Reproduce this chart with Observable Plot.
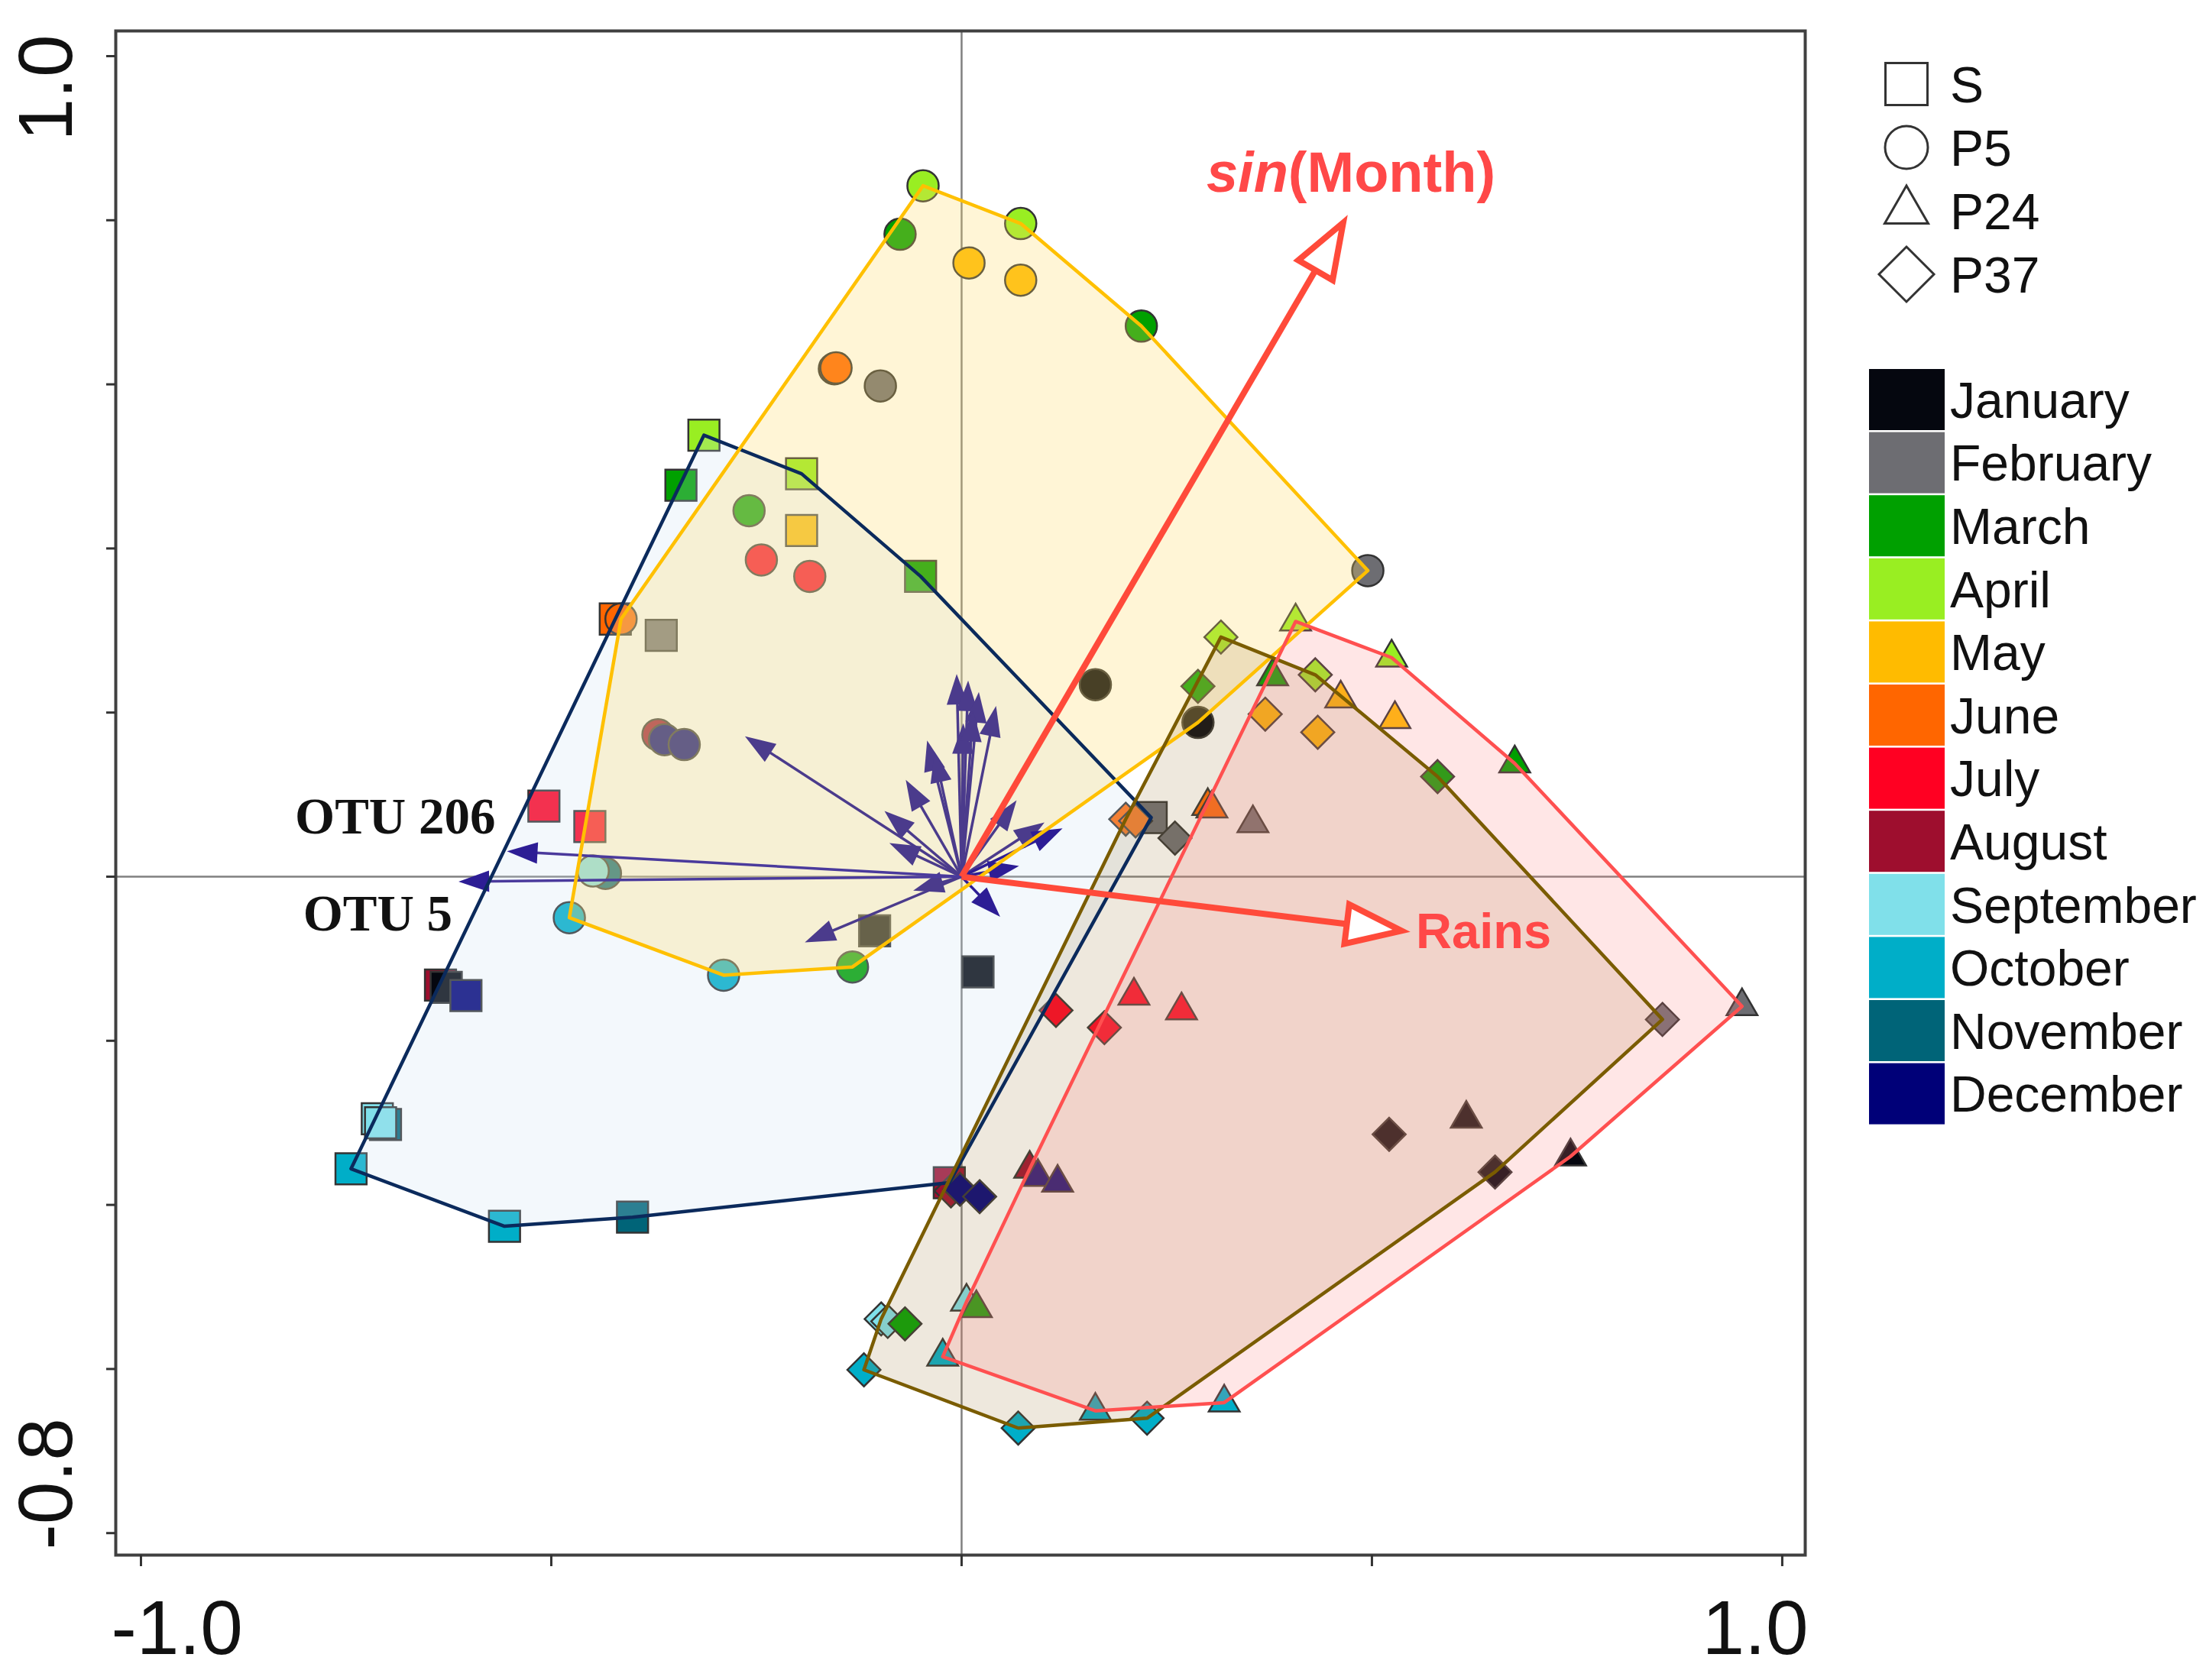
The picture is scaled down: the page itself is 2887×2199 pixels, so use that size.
<!DOCTYPE html>
<html><head><meta charset="utf-8">
<script src="https://cdn.jsdelivr.net/npm/d3@7"></script>
<script src="https://cdn.jsdelivr.net/npm/@observablehq/plot@0.6"></script>
<style>
html,body{margin:0;padding:0;background:#fff;}
#wrap{position:relative;width:2887px;height:2199px;overflow:hidden;}
</style></head><body><div id="wrap"></div>
<script>
// ---- categories ----
const months = ["January","February","March","April","May","June","July","August","September","October","November","December"];
const monthColors = ["#05070f","#6d6d72","#00a000","#99ee22","#ffbb00","#ff6600","#ff0022","#9e0e2e","#80e0ea","#00aec8","#006478","#000078"];
const siteNames = ["S","P5","P24","P37"];

// ---- sample scores (axis 1, axis 2) ----
const sitesS = [
 {m:"April",x:-0.314,y:0.538},{m:"March",x:-0.342,y:0.477},{m:"April",x:-0.195,y:0.491},
 {m:"May",x:-0.195,y:0.422},{m:"March",x:-0.050,y:0.366},{m:"June",x:-0.422,y:0.314},
 {m:"February",x:-0.366,y:0.294},{m:"July",x:-0.509,y:0.086},{m:"July",x:-0.453,y:0.061},
 {m:"January",x:-0.106,y:-0.066},{m:"January",x:0.020,y:-0.116},{m:"February",x:0.231,y:0.072},
 {m:"August",x:-0.635,y:-0.132},{m:"January",x:-0.628,y:-0.135},{m:"December",x:-0.604,y:-0.145},
 {m:"September",x:-0.712,y:-0.295},{m:"November",x:-0.702,y:-0.302},{m:"September",x:-0.708,y:-0.300},
 {m:"October",x:-0.744,y:-0.356},{m:"October",x:-0.557,y:-0.426},{m:"November",x:-0.401,y:-0.415},
 {m:"August",x:-0.015,y:-0.373}
];
const sitesP5 = [
 {m:"April",x:-0.047,y:0.842},{m:"March",x:-0.075,y:0.783},{m:"April",x:0.072,y:0.796},
 {m:"May",x:0.009,y:0.748},{m:"May",x:0.072,y:0.727},{m:"March",x:0.219,y:0.671},
 {m:"June",x:-0.155,y:0.619},{m:"June",x:-0.153,y:0.620},{m:"February",x:-0.099,y:0.598},
 {m:"March",x:-0.259,y:0.446},{m:"July",x:-0.244,y:0.386},{m:"July",x:-0.185,y:0.366},
 {m:"February",x:0.495,y:0.373},{m:"January",x:0.163,y:0.234},{m:"January",x:0.288,y:0.188},
 {m:"June",x:-0.415,y:0.314},{m:"August",x:-0.370,y:0.173},{m:"December",x:-0.362,y:0.167},
 {m:"December",x:-0.338,y:0.161},{m:"November",x:-0.434,y:0.004},{m:"September",x:-0.449,y:0.007},
 {m:"October",x:-0.478,y:-0.050},{m:"October",x:-0.290,y:-0.120},{m:"March",x:-0.133,y:-0.110}
];
const sitesP24 = [
 {m:"April",x:0.407,y:0.311},{m:"March",x:0.379,y:0.244},{m:"April",x:0.524,y:0.267},
 {m:"May",x:0.462,y:0.217},{m:"May",x:0.528,y:0.192},{m:"March",x:0.674,y:0.138},
 {m:"June",x:0.300,y:0.086},{m:"June",x:0.305,y:0.083},{m:"February",x:0.355,y:0.065},
 {m:"July",x:0.210,y:-0.145},{m:"July",x:0.268,y:-0.163},{m:"February",x:0.951,y:-0.158},
 {m:"January",x:0.615,y:-0.295},{m:"January",x:0.742,y:-0.341},{m:"August",x:0.083,y:-0.356},
 {m:"December",x:0.093,y:-0.366},{m:"December",x:0.117,y:-0.373},{m:"September",x:0.006,y:-0.518},
 {m:"March",x:0.018,y:-0.526},{m:"October",x:-0.023,y:-0.585},{m:"October",x:0.163,y:-0.651},
 {m:"October",x:0.320,y:-0.641}
];
const sitesP37 = [
 {m:"April",x:0.316,y:0.292},{m:"March",x:0.288,y:0.232},{m:"April",x:0.431,y:0.246},
 {m:"May",x:0.370,y:0.198},{m:"May",x:0.434,y:0.176},{m:"March",x:0.580,y:0.122},
 {m:"June",x:0.200,y:0.070},{m:"June",x:0.212,y:0.068},{m:"February",x:0.260,y:0.047},
 {m:"July",x:0.115,y:-0.163},{m:"July",x:0.174,y:-0.184},{m:"February",x:0.854,y:-0.174},
 {m:"January",x:0.521,y:-0.314},{m:"January",x:0.650,y:-0.360},{m:"August",x:-0.013,y:-0.383},
 {m:"December",x:-0.002,y:-0.381},{m:"December",x:0.022,y:-0.390},{m:"September",x:-0.098,y:-0.539},
 {m:"September",x:-0.090,y:-0.542},{m:"March",x:-0.069,y:-0.545},{m:"October",x:-0.119,y:-0.601},
 {m:"October",x:0.069,y:-0.672},{m:"October",x:0.226,y:-0.660}
];

// ---- species (OTU) vectors ----
const otuArrows = [
 [-0.006,0.247],[0.008,0.239],[0.021,0.225],[0.042,0.208],[0.002,0.187],[0.014,0.202],
 [-0.042,0.166],[-0.033,0.152],[-0.068,0.118],[-0.094,0.080],[-0.088,0.041],[-0.059,-0.017],
 [-0.191,-0.080],[-0.264,0.171],[0.067,0.093],[0.101,0.066]
].map(([x,y])=>({x,y}));
const otuArrowsDark = [
 {x:0.047,y:-0.049},{x:0.123,y:0.059},{x:0.070,y:0.013},
 {x:-0.554,y:0.031,label:"OTU 206"},{x:-0.613,y:-0.006,label:"OTU 5"}
];
// ---- environmental vectors ----
const envVectors = [
 {name:"sin(Month)", italic:"sin", rest:"(Month)", x:0.465, y:0.797},
 {name:"Rains", italic:"", rest:"Rains", x:0.536, y:-0.066}
];
// ---- axis ticks / labels ----
const xTicks = [-1,-0.5,0,0.5,1];
const yTicks = [-0.8,-0.6,-0.4,-0.2,0,0.2,0.4,0.6,0.8,1.0];
const xTickLabels = ["-1.0","1.0"];
const yTickLabels = ["1.0","-0.8"];

// ---- helpers ----
const PX = 1074; // pixels per axis unit of this layout
const hull = pts => d3.polygonHull(pts.map(d=>[d.x,d.y])).map(([x,y])=>({x,y}));
const ang = d => Math.atan2(d.x, d.y) * 180 / Math.PI;
const shrink = (d, px) => { const L = Math.hypot(d.x,d.y); return Math.max(0, 1 - px/(PX*L)); };
const solidHead = {draw(ctx){ ctx.moveTo(0,0); ctx.lineTo(-14,40); ctx.lineTo(14,40); ctx.closePath(); }};
const openHead = {draw(ctx){ ctx.moveTo(0,0); ctx.lineTo(-26,72); ctx.lineTo(26,72); ctx.closePath(); }};

const hulls = [
 {pts:sitesS,  stroke:"#0b2a5c", fill:"#c8ddf0", op:0.22},
 {pts:sitesP5, stroke:"#ffc000", fill:"#ffd966", op:0.27},
 {pts:sitesP37,stroke:"#7a5c00", fill:"#a08040", op:0.18},
 {pts:sitesP24,stroke:"#ff5050", fill:"#ff8080", op:0.2}
];
const pointStyle = {x:"x", y:"y", fill:"m", stroke:"#333", strokeWidth:2.5};
const purple = "#4b3b8c", navy = "#2d1d95", red = "#ff4a3a";
const sans = "Liberation Sans, Arial, sans-serif", serif = "Liberation Serif, Times New Roman, serif";

const marks = [
 Plot.ruleX([0], {stroke:"#808080", strokeWidth:2.5}),
 Plot.ruleY([0], {stroke:"#808080", strokeWidth:2.5}),
 Plot.dot(sitesS,  {...pointStyle, symbol:"square", r:23}),
 Plot.dot(sitesP5, {...pointStyle, symbol:"circle", r:20.5}),
 Plot.dot(sitesP24,{...pointStyle, symbol:"triangle", r:15}),
 Plot.dot(sitesP37,{...pointStyle, symbol:"diamond2", r:19.5}),
 ...hulls.map(h => Plot.line(hull(h.pts), {x:"x", y:"y", curve:"linear-closed", fill:h.fill, fillOpacity:h.op, stroke:"none"})),
 Plot.link(otuArrows, {x1:()=>0, y1:()=>0, x2:d=>d.x*shrink(d,24), y2:d=>d.y*shrink(d,24), stroke:purple, strokeWidth:3.5}),
 Plot.dot(otuArrows, {x:"x", y:"y", symbol:solidHead, r:10, fill:purple, stroke:"none", rotate:ang}),
 Plot.link(otuArrowsDark, {x1:()=>0, y1:()=>0, x2:d=>d.x*shrink(d,24), y2:d=>d.y*shrink(d,24), stroke:d=>d.label?"#4a3a9c":navy, strokeWidth:3.5}),
 Plot.dot(otuArrowsDark, {x:"x", y:"y", symbol:solidHead, r:10, fill:navy, stroke:"none", rotate:ang}),
 ...hulls.map(h => Plot.line(hull(h.pts), {x:"x", y:"y", curve:"linear-closed", fill:"none", stroke:h.stroke, strokeWidth:4.5})),
 Plot.link(envVectors, {x1:()=>0, y1:()=>0, x2:d=>d.x*shrink(d,72), y2:d=>d.y*shrink(d,72), stroke:red, strokeWidth:8}),
 Plot.dot(envVectors, {x:"x", y:"y", symbol:openHead, r:10, fill:"white", stroke:red, strokeWidth:8, strokeLinejoin:"miter", rotate:ang}),
 Plot.text(envVectors.slice(0,1), {x:"x", y:"y", text:"italic", dx:-72, dy:-40, textAnchor:"end", lineAnchor:"bottom", fontStyle:"italic", fontWeight:"bold", fontSize:74, fill:"#ff4848", fontFamily:sans}),
 Plot.text(envVectors.slice(0,1), {x:"x", y:"y", text:"rest", dx:-72, dy:-40, textAnchor:"start", lineAnchor:"bottom", fontWeight:"bold", fontSize:74, fill:"#ff4848", fontFamily:sans}),
 Plot.text(envVectors.slice(1), {x:"x", y:"y", text:"rest", dx:19, dy:23, textAnchor:"start", lineAnchor:"bottom", fontWeight:"bold", fontSize:65, fill:"#ff4848", fontFamily:sans}),
 Plot.text(otuArrowsDark.filter(d=>d.label==="OTU 206"), {x:"x", y:"y", text:"label", dx:-15, dy:-23, textAnchor:"end", lineAnchor:"bottom", fontWeight:"bold", fontSize:67, fill:"#111", fontFamily:serif}),
 Plot.text(otuArrowsDark.filter(d=>d.label==="OTU 5"), {x:"x", y:"y", text:"label", dx:-8, dy:64, textAnchor:"end", lineAnchor:"bottom", fontWeight:"bold", fontSize:67, fill:"#111", fontFamily:serif}),
 Plot.frame({stroke:"#404040", strokeWidth:4}),
 Plot.axisX({ticks:xTicks, tickSize:15, tickFormat:()=>"", stroke:"#333", strokeWidth:3, label:null}),
 Plot.axisY({ticks:yTicks, tickSize:12, tickFormat:()=>"", stroke:"#333", strokeWidth:3, label:null}),
 Plot.text([xTickLabels[0]], {text:d=>d, frameAnchor:"bottom-left", textAnchor:"start", lineAnchor:"bottom", dx:-6, dy:129, fontSize:100, fill:"#111"}),
 Plot.text([xTickLabels[1]], {text:d=>d, frameAnchor:"bottom-right", textAnchor:"end", lineAnchor:"bottom", dx:4, dy:129, fontSize:100, fill:"#111"}),
 Plot.text([yTickLabels[0]], {text:d=>d, frameAnchor:"top-left", textAnchor:"end", lineAnchor:"bottom", rotate:-90, dx:-58, dy:5, fontSize:100, fill:"#111"}),
 Plot.text([yTickLabels[1]], {text:d=>d, frameAnchor:"bottom-left", textAnchor:"start", lineAnchor:"bottom", rotate:-90, dx:-58, dy:-7, fontSize:100, fill:"#111"})
];

const chart = Plot.plot({
 width:2887, height:2199,
 marginLeft:151, marginRight:525, marginTop:40, marginBottom:164,
 x:{domain:[-1.0307, 1.028], label:null},
 y:{domain:[-0.8268, 1.0307], label:null},
 color:{domain:months, range:monthColors},
 style:{background:"white", fontFamily:sans},
 marks
});
const wrap = document.getElementById("wrap");
wrap.appendChild(chart);

// ---- legend (right side) ----
const lg = d3.select(wrap).append("svg")
 .attr("width",2887).attr("height",2199)
 .style("position","absolute").style("left","0px").style("top","0px")
 .style("font-family",sans);
const shapeSyms = [[d3.symbolSquare,3025],[d3.symbolCircle,2463],[d3.symbolTriangle,1407],[d3.symbolDiamond2,3305]];
siteNames.forEach((s,i)=>{
 const cy = 110 + i*83;
 lg.append("path").attr("d", d3.symbol(shapeSyms[i][0], shapeSyms[i][1])())
   .attr("transform", `translate(2495,${cy})`).attr("fill","none").attr("stroke","#333").attr("stroke-width",3);
 lg.append("text").attr("x",2552).attr("y",cy).attr("dy","0.36em").attr("font-size",66).attr("fill","#111").text(s);
});
months.forEach((m,i)=>{
 const cy = 523 + i*82.6;
 lg.append("rect").attr("x",2446).attr("y",cy-40).attr("width",99).attr("height",80).attr("fill",monthColors[i]);
 lg.append("text").attr("x",2552).attr("y",cy).attr("dy","0.36em").attr("font-size",66).attr("fill","#111").text(m);
});
</script>
</body></html>
